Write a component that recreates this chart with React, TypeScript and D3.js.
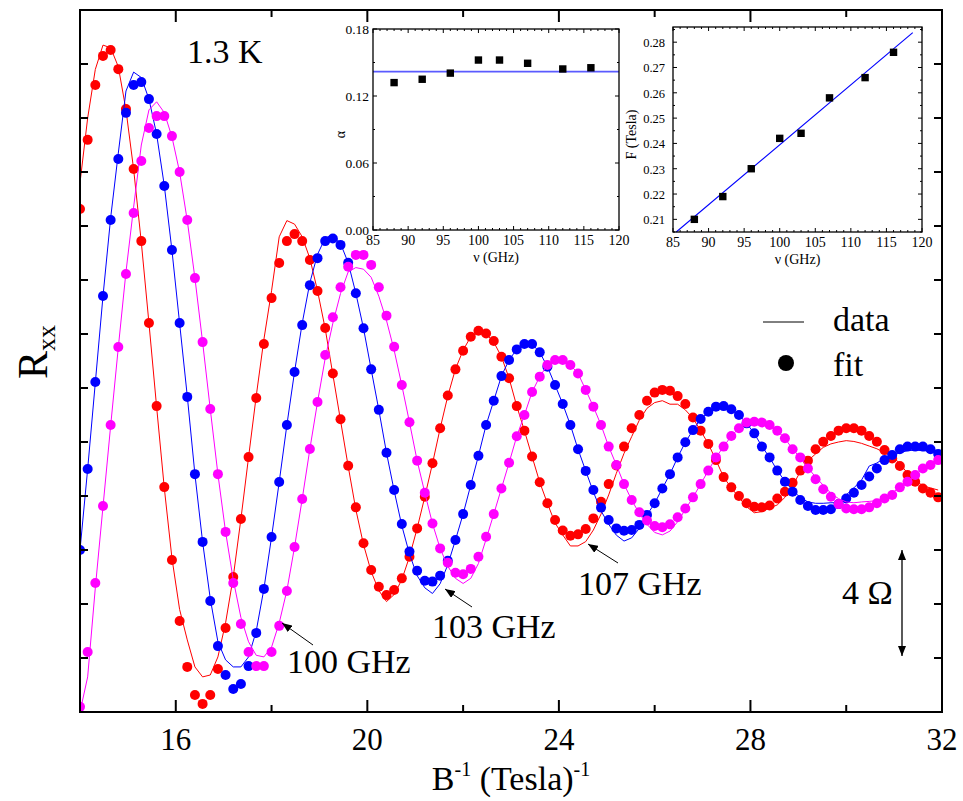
import React from 'react';
import * as d3 from 'd3';

// inverse field grid (Tesla^-1), fit points are evenly spaced
const invB = d3.range(113).map((i) => +(14 + 0.16 * i).toFixed(2));

// 107 GHz (red)
const red107Fit = [18.63, 21.19, 23.22, 24.3, 24.52, 23.81, 22.33, 20.11, 17.44, 14.41, 11.33, 8.33, 5.63, 3.37, 1.67, 0.63, 0.3, 0.63, 1.59, 3.11, 5.0, 7.15, 9.44, 11.63, 13.63, 15.33, 16.63, 17.44, 17.7, 17.44, 16.74, 15.59, 14.22, 12.54, 10.84, 9.12, 7.58, 6.25, 5.26, 4.64, 4.33, 4.52, 4.95, 5.75, 6.8, 7.97, 9.21, 10.51, 11.72, 12.69, 13.38, 13.9, 14.12, 14.02, 13.74, 13.16, 12.36, 11.33, 10.42, 9.46, 8.51, 7.73, 7.11, 6.72, 6.53, 6.58, 6.78, 7.17, 7.79, 8.44, 9.13, 9.83, 10.51, 11.0, 11.53, 11.83, 11.93, 11.9, 11.7, 11.41, 10.91, 10.42, 9.93, 9.33, 8.7, 8.32, 8.0, 7.73, 7.6, 7.58, 7.65, 7.91, 8.16, 8.49, 8.94, 9.31, 9.73, 10.01, 10.22, 10.42, 10.51, 10.51, 10.42, 10.22, 10.01, 9.7, 9.39, 9.11, 8.78, 8.53, 8.28, 8.12, 7.95];
const red107Data = [19.6, 22.0, 23.8, 24.7, 24.6, 23.9, 22.3, 20.1, 17.4, 14.4, 11.3, 8.3, 5.7, 3.8, 2.67, 1.67, 1.3, 1.37, 2.04, 3.3, 5.0, 7.15, 9.44, 11.7, 13.8, 15.6, 17.6, 18.2, 18.07, 17.6, 16.8, 15.6, 14.2, 12.5, 10.8, 9.1, 7.5, 6.2, 5.2, 4.5, 4.09, 4.35, 4.9, 5.75, 6.8, 7.97, 9.2, 10.5, 11.7, 12.7, 13.4, 13.9, 14.1, 14.0, 13.7, 13.16, 12.36, 11.33, 10.42, 9.46, 8.51, 7.73, 7.0, 6.56, 6.15, 6.15, 6.31, 6.74, 7.33, 8.04, 8.84, 9.58, 10.2, 10.81, 11.25, 11.46, 11.53, 11.4, 11.4, 11.19, 10.88, 10.42, 9.93, 9.33, 8.7, 8.3, 7.95, 7.6, 7.38, 7.42, 7.55, 7.67, 7.95, 8.37, 8.9, 9.3, 9.56, 9.8, 9.93, 10.0, 10.05, 10.02, 9.95, 9.85, 9.75, 9.6, 9.48, 9.2, 8.84, 8.6, 8.37, 8.3, 8.22];

// 103 GHz (blue)
const blue103Fit = [6.0, 9.0, 12.22, 15.41, 18.22, 20.48, 22.19, 23.22, 23.33, 22.7, 21.41, 19.48, 17.11, 14.41, 11.67, 8.81, 6.3, 4.11, 2.44, 1.37, 0.85, 1.04, 1.7, 2.93, 4.56, 6.48, 8.52, 10.63, 12.59, 14.33, 15.81, 16.81, 17.44, 17.54, 17.3, 16.64, 15.51, 14.21, 12.69, 11.19, 9.6, 8.22, 6.96, 5.94, 5.23, 4.86, 4.83, 5.05, 5.6, 6.37, 7.33, 8.41, 9.49, 10.63, 11.53, 12.44, 13.04, 13.43, 13.63, 13.63, 13.32, 12.79, 12.11, 11.41, 10.63, 9.73, 8.93, 8.22, 7.57, 7.11, 6.8, 6.71, 6.74, 6.93, 7.3, 7.73, 8.28, 8.81, 9.43, 9.99, 10.44, 10.85, 11.12, 11.31, 11.33, 11.21, 11.0, 10.69, 10.32, 9.83, 9.43, 8.94, 8.53, 8.16, 7.85, 7.63, 7.48, 7.48, 7.51, 7.7, 7.91, 8.12, 8.41, 8.72, 9.02, 9.33, 9.52, 9.73, 9.83, 9.83, 9.83, 9.73, 9.56];
const blue103Data = [6.0, 9.0, 12.2, 15.4, 18.3, 20.7, 23.0, 23.7, 23.5, 22.7, 21.4, 19.5, 17.1, 14.4, 11.7, 8.8, 6.3, 4.2, 2.6, 1.93, 1.67, 1.67, 2.04, 3.0, 4.56, 6.48, 8.52, 10.63, 12.6, 14.4, 15.9, 16.95, 17.55, 17.67, 17.35, 16.64, 15.51, 14.21, 12.69, 11.19, 9.6, 8.2, 6.9, 5.85, 5.05, 4.6, 4.39, 4.75, 5.45, 6.37, 7.33, 8.41, 9.49, 10.63, 11.53, 12.44, 13.04, 13.43, 13.63, 13.63, 13.32, 12.79, 12.11, 11.41, 10.63, 9.73, 8.93, 8.15, 7.45, 6.95, 6.55, 6.33, 6.45, 6.8, 7.3, 7.73, 8.28, 8.81, 9.43, 9.99, 10.44, 10.85, 11.12, 11.31, 11.33, 11.21, 11.0, 10.69, 10.32, 9.83, 9.43, 8.94, 8.55, 8.2, 7.95, 7.78, 7.73, 7.73, 7.75, 7.75, 8.04, 8.3, 8.59, 9.11, 9.22, 9.41, 9.5, 9.6, 9.68, 9.7, 9.68, 9.66, 9.64];

// 100 GHz (magenta)
const mag100Fit = [0.19, 2.22, 4.78, 7.63, 10.63, 13.52, 16.22, 18.48, 20.41, 21.63, 22.07, 22.07, 21.33, 20.0, 18.22, 16.07, 13.7, 11.22, 8.81, 6.67, 4.78, 3.26, 2.22, 1.7, 1.7, 2.22, 3.19, 4.48, 6.11, 7.89, 9.74, 11.48, 13.22, 14.62, 15.73, 16.49, 16.93, 16.93, 16.56, 15.73, 14.68, 13.53, 12.11, 10.73, 9.31, 8.12, 6.98, 6.06, 5.53, 5.16, 5.1, 5.3, 5.75, 6.49, 7.33, 8.28, 9.23, 10.21, 11.0, 11.85, 12.42, 12.85, 13.04, 13.04, 12.85, 12.54, 11.93, 11.31, 10.63, 9.83, 9.15, 8.44, 7.85, 7.4, 7.09, 6.89, 6.84, 6.95, 7.21, 7.54, 7.95, 8.44, 8.94, 9.43, 9.83, 10.22, 10.51, 10.72, 10.75, 10.72, 10.63, 10.42, 10.14, 9.73, 9.43, 9.02, 8.62, 8.25, 7.97, 7.7, 7.54, 7.51, 7.51, 7.58, 7.73, 7.91, 8.04, 8.32, 8.53, 8.78, 9.02, 9.15, 9.33];
const mag100Data = [0.0, 1.3, 4.6, 7.6, 10.6, 13.5, 16.3, 18.7, 21.0, 22.3, 22.6, 22.2, 21.3, 20.0, 18.2, 16.07, 13.7, 11.22, 8.81, 6.67, 4.9, 3.5, 2.6, 2.1, 2.04, 2.4, 3.3, 4.5, 6.11, 7.89, 9.74, 11.48, 13.1, 14.4, 15.5, 16.3, 16.46, 16.4, 16.1, 15.4, 14.5, 13.4, 12.1, 10.73, 9.31, 8.12, 6.98, 6.06, 5.4, 4.95, 4.76, 4.95, 5.5, 6.4, 7.33, 8.28, 9.23, 10.21, 11.0, 11.85, 12.42, 12.85, 13.0, 13.0, 12.85, 12.54, 11.93, 11.31, 10.63, 9.83, 9.15, 8.44, 7.85, 7.35, 6.95, 6.65, 6.56, 6.7, 7.05, 7.5, 7.95, 8.44, 8.94, 9.43, 9.83, 10.22, 10.51, 10.72, 10.75, 10.72, 10.63, 10.42, 10.14, 9.73, 9.43, 9.05, 8.7, 8.4, 8.1, 7.9, 7.78, 7.75, 7.78, 7.8, 7.83, 7.9, 8.1, 8.35, 8.55, 8.78, 9.0, 9.2, 9.4];

const mainXTicks = [16, 20, 24, 28, 32];
const mainXMinor = [18, 22, 26, 30];
const mainYTicks = d3.range(2, 26, 2);

// inset 1: alpha vs frequency
const alphaNu = [88, 92, 96, 100, 103, 107, 112, 116];
const alphaVal = [0.132, 0.135, 0.1405, 0.1522, 0.1522, 0.1493, 0.1442, 0.1453];
const alphaMean = 0.1418;
const alphaYTicks = [0, 0.06, 0.12, 0.18];

// inset 2: F vs frequency
const fNu = [88, 92, 96, 100, 103, 107, 112, 116];
const fVal = [0.21, 0.219, 0.23, 0.242, 0.244, 0.258, 0.266, 0.276];
const fLineNu = [85.45, 118.7];
const fLineVal = [0.205, 0.2838];
const fYTicks = [0.21, 0.22, 0.23, 0.24, 0.25, 0.26, 0.27, 0.28];
const nuTicks = [85, 90, 95, 100, 105, 110, 115, 120];

const FONT = "'Liberation Serif', 'Times New Roman', serif";

const series = [
  { fit: red107Fit, data: red107Data, color: '#ff0000' },
  { fit: blue103Fit, data: blue103Data, color: '#0000ff' },
  { fit: mag100Fit, data: mag100Data, color: '#ff00ff' },
];

function Inset({ x0, x1, y0, y1, ydom, yTicks, yMinorStep, yFmt, yLabel, yLabelX, yTickGap, yFont, children }: any) {
  const xs = d3.scaleLinear().domain([85, 120]).range([x0, x1]);
  const ys = d3.scaleLinear().domain(ydom).range([y1, y0]);
  const minorNu = d3.range(86, 120, 1).filter((v) => v % 5 !== 0);
  const yMinor: number[] = [];
  for (let v = ydom[0]; v <= ydom[1] + 1e-9; v += yMinorStep) {
    const r = +v.toFixed(4);
    if (!yTicks.some((t: number) => Math.abs(t - r) < 1e-6)) yMinor.push(r);
  }
  return (
    <g>
      <rect x={x0} y={y0} width={x1 - x0} height={y1 - y0} fill="#fff" stroke="none" />
      {children(xs, ys)}
      <rect x={x0} y={y0} width={x1 - x0} height={y1 - y0} fill="none" stroke="#000" strokeWidth={1.3} />
      {nuTicks.map((t) => (
        <g key={'nx' + t}>
          <line x1={xs(t)} x2={xs(t)} y1={y1} y2={y1 - 4} stroke="#000" />
          <line x1={xs(t)} x2={xs(t)} y1={y0} y2={y0 + 4} stroke="#000" />
          <text x={xs(t)} y={y1 + 15} fontSize={14} textAnchor="middle" fontFamily={FONT}>{t}</text>
        </g>
      ))}
      {minorNu.map((t) => (
        <g key={'mx' + t}>
          <line x1={xs(t)} x2={xs(t)} y1={y1} y2={y1 - 2} stroke="#000" />
          <line x1={xs(t)} x2={xs(t)} y1={y0} y2={y0 + 2} stroke="#000" />
        </g>
      ))}
      {yTicks.map((t: number) => (
        <g key={'ny' + t}>
          <line x1={x0} x2={x0 + 4} y1={ys(t)} y2={ys(t)} stroke="#000" />
          <line x1={x1} x2={x1 - 4} y1={ys(t)} y2={ys(t)} stroke="#000" />
          <text x={x0 - yTickGap} y={ys(t) + 5} fontSize={yFont} textAnchor="end" fontFamily={FONT}>{yFmt(t)}</text>
        </g>
      ))}
      {yMinor.map((t) => (
        <g key={'my' + t}>
          <line x1={x0} x2={x0 + 2} y1={ys(t)} y2={ys(t)} stroke="#000" />
          <line x1={x1} x2={x1 - 2} y1={ys(t)} y2={ys(t)} stroke="#000" />
        </g>
      ))}
      <text x={(x0 + x1) / 2} y={y1 + 32} fontSize={14} textAnchor="middle" fontFamily={FONT}>ν (GHz)</text>
      <text transform={`translate(${yLabelX},${(y0 + y1) / 2 + 5}) rotate(-90)`} fontSize={14} textAnchor="middle" fontFamily={FONT}>{yLabel}</text>
    </g>
  );
}

export default function App() {
  const L = 80, R = 942, T = 10, B = 712;
  const x = d3.scaleLinear().domain([14, 32]).range([L, R]);
  const y = d3.scaleLinear().domain([0, 26]).range([B, T]);
  const line = d3.line<number>().x((_, i) => x(invB[i])).y((d) => y(d));

  return (
    <svg width={963} height={801} style={{ position: 'absolute', left: 0, top: 0, background: '#fff' }} fontFamily={FONT}>
      <defs>
        <clipPath id="plot"><rect x={L} y={T} width={R - L} height={B - T} /></clipPath>
        <marker id="ah" viewBox="0 0 10 8" refX={10} refY={4} markerWidth={10} markerHeight={8} markerUnits="userSpaceOnUse" orient="auto-start-reverse">
          <path d="M0,0 L10,4 L0,8 z" fill="#000" />
        </marker>
      </defs>
      <rect x={0} y={0} width={963} height={801} fill="#fff" />
      <g clipPath="url(#plot)">
        {series.map((s, k) => (
          <g key={k}>
            <path d={line(s.data) || ''} fill="none" stroke={s.color} strokeWidth={1} />
            {s.fit.map((v, i) => (
              <circle key={i} cx={x(invB[i])} cy={y(v)} r={5} fill={s.color} />
            ))}
          </g>
        ))}
      </g>
      {/* frame */}
      <rect x={L} y={T} width={R - L} height={B - T} fill="none" stroke="#000" strokeWidth={2} />
      {mainXTicks.map((t) => (
        <g key={'x' + t}>
          <line x1={x(t)} x2={x(t)} y1={B} y2={B - 12} stroke="#000" strokeWidth={2} />
          <line x1={x(t)} x2={x(t)} y1={T} y2={T + 12} stroke="#000" strokeWidth={2} />
          <text x={x(t)} y={750} fontSize={31} textAnchor="middle">{t}</text>
        </g>
      ))}
      {mainXMinor.map((t) => (
        <g key={'xm' + t}>
          <line x1={x(t)} x2={x(t)} y1={B} y2={B - 7} stroke="#000" strokeWidth={2} />
          <line x1={x(t)} x2={x(t)} y1={T} y2={T + 7} stroke="#000" strokeWidth={2} />
        </g>
      ))}
      {mainYTicks.map((t) => (
        <g key={'y' + t}>
          <line x1={L} x2={L + 8} y1={y(t)} y2={y(t)} stroke="#000" strokeWidth={2} />
          <line x1={R} x2={R - 8} y1={y(t)} y2={y(t)} stroke="#000" strokeWidth={2} />
        </g>
      ))}
      {/* axis titles */}
      <text x={511} y={790} fontSize={34} textAnchor="middle">
        B<tspan fontSize={20} dy={-14}>-1</tspan><tspan dy={14}> (Tesla)</tspan><tspan fontSize={20} dy={-14}>-1</tspan>
      </text>
      <text transform="translate(47,352) rotate(-90)" fontSize={42} textAnchor="middle">
        R<tspan fontSize={26} dy={8}>xx</tspan>
      </text>
      <text x={187} y={63} fontSize={34}>1.3 K</text>

      {/* legend */}
      <line x1={763} x2={804} y1={322} y2={322} stroke="#000" strokeWidth={1} />
      <text x={833} y={331} fontSize={34}>data</text>
      <circle cx={786} cy={363} r={8} fill="#000" />
      <text x={833} y={376} fontSize={34}>fit</text>

      {/* annotations */}
      <line x1={313} y1={645} x2={282} y2={623} stroke="#000" strokeWidth={1} markerEnd="url(#ah)" />
      <text x={287} y={673} fontSize={34}>100 GHz</text>
      <line x1={472} y1={607} x2={445} y2={589} stroke="#000" strokeWidth={1} markerEnd="url(#ah)" />
      <text x={432} y={638} fontSize={34}>103 GHz</text>
      <line x1={618} y1={563} x2={588} y2={544} stroke="#000" strokeWidth={1} markerEnd="url(#ah)" />
      <text x={578} y={595} fontSize={34}>107 GHz</text>
      <line x1={902} y1={550} x2={902} y2={656} stroke="#000" strokeWidth={1.3} markerStart="url(#ah)" markerEnd="url(#ah)" />
      <text x={842} y={604} fontSize={34}>4 Ω</text>

      {/* inset 1 */}
      <Inset x0={373} x1={619} y0={29} y1={230} ydom={[0, 0.18]} yTicks={alphaYTicks} yMinorStep={0.03}
        yFmt={(t: number) => t.toFixed(2)} yLabel="α" yLabelX={345} yTickGap={4} yFont={13.5}>
        {(xs: any, ys: any) => (
          <g>
            <line x1={xs(85)} x2={xs(120)} y1={ys(alphaMean)} y2={ys(alphaMean)} stroke="#5b5bff" strokeWidth={1.6} />
            {alphaNu.map((n, i) => (
              <rect key={i} x={xs(n) - 3.7} y={ys(alphaVal[i]) - 3.7} width={7.4} height={7.4} fill="#000" />
            ))}
          </g>
        )}
      </Inset>

      {/* inset 2 */}
      <Inset x0={673} x1={922} y0={27} y1={232} ydom={[0.205, 0.286]} yTicks={fYTicks} yMinorStep={0.005}
        yFmt={(t: number) => t.toFixed(2)} yLabel="F (Tesla)" yLabelX={636} yTickGap={8} yFont={12.5}>
        {(xs: any, ys: any) => (
          <g>
            <line x1={xs(fLineNu[0])} x2={xs(fLineNu[1])} y1={ys(fLineVal[0])} y2={ys(fLineVal[1])} stroke="#0000ff" strokeWidth={1.1} />
            {fNu.map((n, i) => (
              <rect key={i} x={xs(n) - 3.7} y={ys(fVal[i]) - 3.7} width={7.4} height={7.4} fill="#000" />
            ))}
          </g>
        )}
      </Inset>
    </svg>
  );
}
